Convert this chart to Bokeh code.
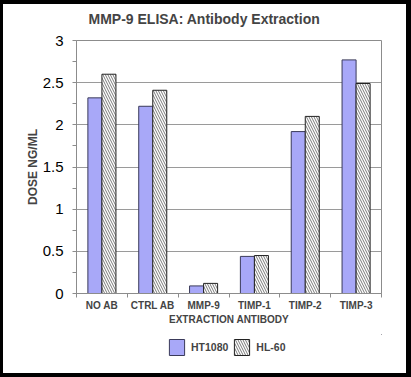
from bokeh.plotting import figure
from bokeh.models import (FixedTicker, NumeralTickFormatter, Legend, LegendItem,
                          ColumnDataSource, Range1d)
from bokeh.layouts import column
from bokeh.embed import file_html
from bokeh.resources import INLINE
import numpy as np

categories = ["NO AB", "CTRL AB", "MMP-9", "TIMP-1", "TIMP-2", "TIMP-3"]
ht1080 = [2.32, 2.22, 0.09, 0.44, 1.92, 2.77]
hl60 = [2.60, 2.41, 0.12, 0.45, 2.10, 2.49]
series_names = ["HT1080", "HL-60"]
y_ticks = [0, 0.5, 1, 1.5, 2, 2.5, 3]
y_minor = [0.25, 0.75, 1.25, 1.75, 2.25, 2.75]

FONT = "Liberation Sans"
bar_w = 0.276
idx = np.arange(len(categories))
centers = idx + 0.5

HT_STYLE = dict(fill_color="#a8a8f8", line_color="#3a3a5a", line_width=1)
HL_STYLE = dict(fill_color="white", line_color="#222222", line_width=1,
                hatch_pattern="\\", hatch_color="#7a7a7a", hatch_scale=5,
                hatch_weight=1)

src = ColumnDataSource(dict(
    x_ht=centers - bar_w / 2,
    x_hl=centers + bar_w / 2,
    ht=ht1080,
    hl=hl60,
))

p = figure(width=403, height=330, output_backend="svg", toolbar_location=None,
           x_range=Range1d(0, len(categories)), y_range=Range1d(0, 3),
           min_border_left=73, min_border_right=25, min_border_top=36,
           min_border_bottom=41)
p.styles = {"background-color": "white"}

p.title.text = "MMP-9 ELISA: Antibody Extraction"
p.title.text_font = FONT
p.title.text_font_size = "14px"
p.title.text_font_style = "bold"
p.title.align = "left"
p.title.offset = 12
p.title.standoff = 0
p.title.padding = dict(left=0, right=0, top=0, bottom=14)

p.outline_line_color = "#8c8c8c"
p.outline_line_width = 1
p.background_fill_color = "white"
p.border_fill_color = "white"

r1 = p.vbar(x="x_ht", top="ht", width=bar_w, source=src, **HT_STYLE)
r2 = p.vbar(x="x_hl", top="hl", width=bar_w, source=src, **HL_STYLE)

# Y axis
yax = p.yaxis[0]
yax.ticker = FixedTicker(ticks=y_ticks, minor_ticks=y_minor)
yax.formatter = NumeralTickFormatter(format="0.[0]")
yax.axis_line_color = "#8c8c8c"
yax.major_tick_line_color = "#8c8c8c"
yax.minor_tick_line_color = "#8c8c8c"
yax.major_tick_in = 0
yax.major_tick_out = 4
yax.minor_tick_in = 0
yax.minor_tick_out = 4
yax.major_label_text_font = FONT
yax.major_label_text_font_size = "15px"
yax.major_label_text_color = "black"
yax.major_label_standoff = 9
yax.axis_label = "DOSE NG/ML"
yax.axis_label_text_font = FONT
yax.axis_label_text_font_size = "12px"
yax.axis_label_text_font_style = "bold"
yax.axis_label_standoff = 0

# X axis
xax = p.xaxis[0]
xax.ticker = FixedTicker(ticks=list(centers), minor_ticks=list(np.arange(len(categories) + 1)))
xax.major_label_overrides = {float(c): cat for c, cat in zip(centers, categories)}
xax.axis_line_color = "#8c8c8c"
xax.major_tick_line_color = None
xax.major_tick_in = 0
xax.major_tick_out = 0
xax.minor_tick_line_color = "#8c8c8c"
xax.minor_tick_in = 0
xax.minor_tick_out = 4
xax.major_label_text_font = FONT
xax.major_label_text_font_size = "10px"
xax.major_label_text_font_style = "bold"
xax.major_label_standoff = 2
xax.axis_label = "EXTRACTION ANTIBODY"
xax.axis_label_text_font = FONT
xax.axis_label_text_font_size = "10px"
xax.axis_label_text_font_style = "bold"
xax.axis_label_standoff = 0

p.xgrid.grid_line_color = None
p.ygrid.ticker = FixedTicker(ticks=y_ticks)
p.ygrid.grid_line_color = "#9a9a9a"
p.ygrid.grid_line_width = 1

# Legend strip under the chart (frame aligned with the chart's frame)
lp = figure(width=403, height=39, output_backend="svg", toolbar_location=None,
            x_axis_location=None, y_axis_location=None,
            x_range=Range1d(0, 1), y_range=Range1d(0, 1),
            min_border_left=73, min_border_right=25,
            min_border_top=0, min_border_bottom=0)
lp.styles = {"background-color": "white"}
lp.outline_line_color = None
lp.background_fill_color = "white"
lp.border_fill_color = "white"
lp.xgrid.visible = False
lp.ygrid.visible = False
# swatch renderers kept outside the visible range; only their legend glyphs show
l1 = lp.vbar(x=[5], top=[5], bottom=[4], width=0.1, **HT_STYLE)
l2 = lp.vbar(x=[5], top=[5], bottom=[4], width=0.1, **HL_STYLE)

legend = Legend(items=[LegendItem(label=series_names[0], renderers=[l1]),
                       LegendItem(label=series_names[1], renderers=[l2])],
                orientation="horizontal", location=(91, 16),
                glyph_width=19, glyph_height=20, label_height=20,
                label_standoff=5, spacing=4, padding=0, margin=0,
                border_line_alpha=0, background_fill_alpha=0,
                label_text_font=FONT, label_text_font_size="10.5px",
                label_text_font_style="bold")
lp.add_layout(legend)

layout = column(p, lp, spacing=0,
                styles={"background-color": "black", "padding": "4px 5px 4px 3px"})

open("out.html", "w").write(file_html(layout, INLINE))
